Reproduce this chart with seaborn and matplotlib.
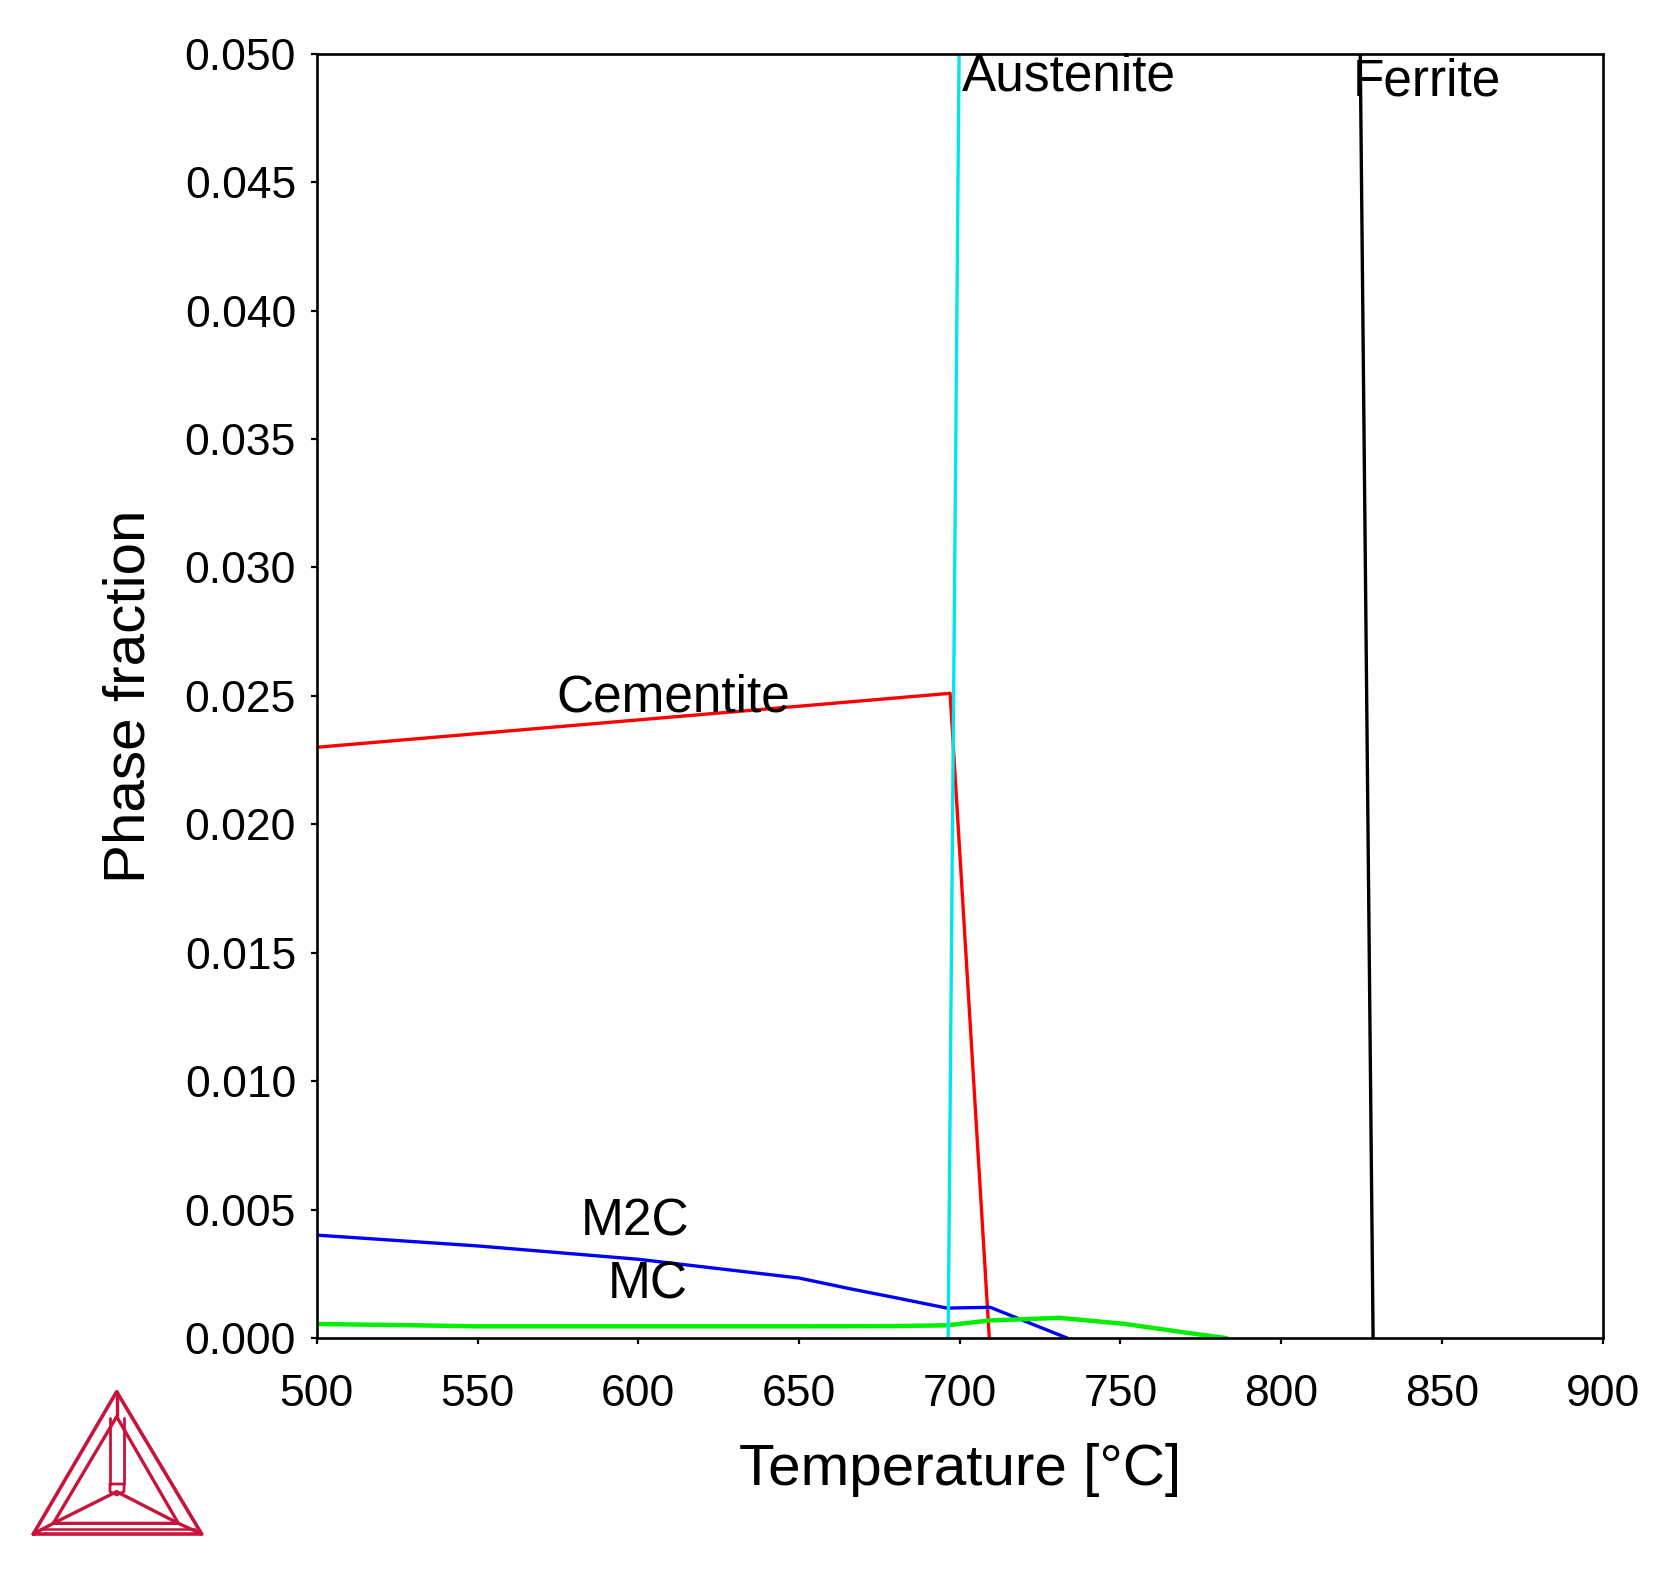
import pandas as pd
import matplotlib
matplotlib.use("Agg")
import matplotlib.pyplot as plt
import matplotlib.ticker as mticker
import seaborn as sns

# phase fraction vs temperature
cementite_T = [500, 697, 709.2]
cementite_f = [0.0230, 0.0251, 0.0]

austenite_T = [696.4, 699.8]
austenite_f = [0.0, 0.050]

ferrite_T = [828.6, 824.6]
ferrite_f = [0.0, 0.050]

m2c_T = [500, 550, 600, 650, 666, 681, 696, 709.5, 733.5]
m2c_f = [0.00401, 0.00359, 0.00307, 0.00234, 0.00192, 0.00155, 0.00117, 0.00120, 0.0]

mc_T = [500, 520, 550, 600, 650, 680, 696, 709.5, 731, 751, 769.5, 783]
mc_f = [0.00055, 0.00052, 0.00046, 0.00046, 0.00046, 0.00047, 0.00050, 0.00069,
        0.00079, 0.00056, 0.00023, 0.0]

x_ticks = [500, 550, 600, 650, 700, 750, 800, 850, 900]
y_ticks = [0.000, 0.005, 0.010, 0.015, 0.020, 0.025, 0.030, 0.035, 0.040, 0.045, 0.050]

phase_colors = {"Cementite": "#ff0000", "M2C": "#0000ff", "MC": "#00ee00",
                "Austenite": "#00e5ee", "Ferrite": "#000000"}

frames = []
for name, T, f in [("Cementite", cementite_T, cementite_f),
                   ("M2C", m2c_T, m2c_f),
                   ("MC", mc_T, mc_f),
                   ("Austenite", austenite_T, austenite_f),
                   ("Ferrite", ferrite_T, ferrite_f)]:
    frames.append(pd.DataFrame({"T": T, "f": f, "phase": name}))
df = pd.concat(frames, ignore_index=True)

sns.set_theme(style="white")
plt.rcParams["font.family"] = ["Liberation Sans", "DejaVu Sans"]
plt.rcParams["text.color"] = "black"
plt.rcParams["axes.labelcolor"] = "black"
plt.rcParams["xtick.color"] = "black"
plt.rcParams["ytick.color"] = "black"

fig = plt.figure(figsize=(16.59, 15.78), dpi=100)
ax = fig.add_axes([0.191, 0.152, 0.775, 0.814])

for name in ["Cementite", "M2C", "MC", "Austenite", "Ferrite"]:
    sub = df[df["phase"] == name]
    lw = 3.2 if name == "MC" else 2.4
    sns.lineplot(data=sub, x="T", y="f", color=phase_colors[name], sort=False,
                 estimator=None, linewidth=lw, ax=ax, legend=False)

ax.set_xlim(500, 900)
ax.set_ylim(0, 0.050)
ax.set_xticks(x_ticks)
ax.set_yticks(y_ticks)
ax.yaxis.set_major_formatter(mticker.FormatStrFormatter("%.3f"))
ax.tick_params(axis="both", direction="out", length=4, width=1.6, color="black",
               labelsize=32, bottom=True, left=True, top=False, right=False)
ax.tick_params(axis="x", pad=22)
ax.tick_params(axis="y", pad=11)
for s in ax.spines.values():
    s.set_color("black")
    s.set_linewidth(1.9)

ax.set_xlabel("Temperature [°C]", fontsize=42, labelpad=20)
ax.set_ylabel("Phase fraction", fontsize=42, labelpad=20)

ax.text(700.6, 0.0491, "Austenite", fontsize=37, ha="left", va="center")
ax.text(822.3, 0.0489, "Ferrite", fontsize=37, ha="left", va="center")
ax.text(611, 0.0249, "Cementite", fontsize=37, ha="center", va="center")
ax.text(599, 0.00453, "M2C", fontsize=37, ha="center", va="center")
ax.text(603, 0.00206, "MC", fontsize=37, ha="center", va="center")

# Thermo-Calc style logo in the lower left corner
logo = fig.add_axes([0, 0, 250 / 1659, 218 / 1578])
logo.set_xlim(0, 750)
logo.set_ylim(654, 0)
logo.axis("off")
lc = "#c8143c"
outer = [(100, 522), (605, 522), (350, 95), (100, 522)]
inner = [(160, 490), (535, 490), (350, 170), (160, 490)]
centre = (350, 395)
logo.plot([p[0] for p in outer], [p[1] for p in outer], color=lc, lw=2.6)
logo.plot([p[0] for p in inner], [p[1] for p in inner], color=lc, lw=2.4)
for a, b in [((100, 522), (160, 490)), ((605, 522), (535, 490)), ((350, 95), (350, 170))]:
    logo.plot([a[0], b[0]], [a[1], b[1]], color=lc, lw=2.4)
for v in [(160, 490), (535, 490)]:
    logo.plot([centre[0], v[0]], [centre[1], v[1]], color=lc, lw=2.4)
logo.plot([330, 330], [175, 372], color=lc, lw=2.0)
logo.plot([372, 372], [175, 372], color=lc, lw=2.0)
logo.plot([330, 372, 372, 350, 330, 330], [372, 372, 395, 405, 395, 372], color=lc, lw=2.0)
logo.plot([120, 585], [508, 508], color=lc, lw=1.8)

fig.savefig("out.png", dpi=100)
